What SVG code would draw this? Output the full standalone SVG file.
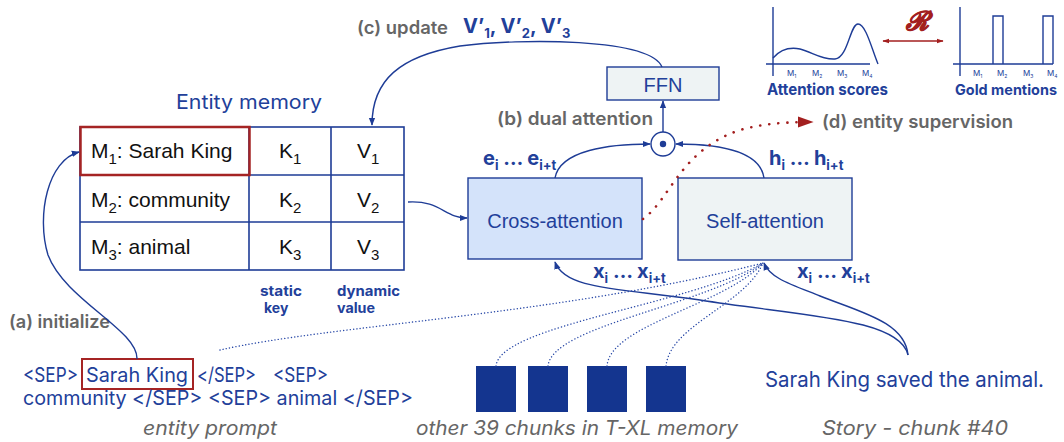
<svg xmlns="http://www.w3.org/2000/svg" width="1064" height="442" viewBox="0 0 1064 442">
<defs>
<marker id="ah" viewBox="0 0 10 10" refX="9" refY="5" markerWidth="8" markerHeight="8" markerUnits="userSpaceOnUse" orient="auto-start-reverse"><path d="M0,1 L10,5 L0,9 z" fill="#1e3c96"/></marker>
<marker id="ahr" viewBox="0 0 10 10" refX="9" refY="5" markerWidth="16" markerHeight="16" markerUnits="userSpaceOnUse" orient="auto"><path d="M0,1.5 L10,5 L0,8.5 z" fill="#a31f1f"/></marker>
<marker id="ahs" viewBox="0 0 10 10" refX="9" refY="5" markerWidth="7" markerHeight="7" markerUnits="userSpaceOnUse" orient="auto-start-reverse"><path d="M0,1.5 L10,5 L0,8.5 z" fill="#a31f1f"/></marker>
<style>
.ln{fill:none;stroke:#1e3c96;stroke-width:1.4}
.dot{fill:none;stroke:#2a4aa8;stroke-width:1.4;stroke-dasharray:0.1 3.2;stroke-linecap:round}
.rdot{fill:none;stroke:#a31f1f;stroke-width:2.6;stroke-dasharray:0.1 9;stroke-linecap:round}
.tbl{font-family:"Liberation Sans",Arial,sans-serif;font-size:21px;fill:#111}
.sub{font-size:15px}
.blue{font-family:Inter,"Liberation Sans",sans-serif;fill:#22409a}
.bb{font-family:Inter,"Liberation Sans",sans-serif;font-weight:bold;fill:#22409a}
.gray{font-family:Inter,"Liberation Sans",sans-serif;font-weight:600;fill:#666;font-size:18px}
.cap{font-family:Inter,"Liberation Sans",sans-serif;font-style:italic;fill:#666;font-size:20px}
.box{font-family:"Liberation Sans",Arial,sans-serif;font-size:20px;fill:#22409a}
.ms{font-family:Inter,"Liberation Sans",sans-serif;font-size:8px;fill:#22409a}
</style>
</defs>

<!-- Entity memory table -->
<g id="entity-memory">
<text class="blue" x="176" y="109" font-size="20" textLength="146" lengthAdjust="spacingAndGlyphs">Entity memory</text>
<rect x="80" y="127" width="324" height="143" fill="#fff" stroke="#1e3c96" stroke-width="1.6"/>
<path d="M249,127 V270 M331,127 V270 M80,175 H404 M80,222 H404" stroke="#1e3c96" stroke-width="1.6" fill="none"/>
<rect x="80.5" y="127" width="169" height="48" fill="none" stroke="#a52424" stroke-width="2.5"/>
<text class="tbl" x="91" y="158">M<tspan class="sub" dy="6">1</tspan><tspan dy="-6">: Sarah King</tspan></text>
<text class="tbl" x="91" y="207">M<tspan class="sub" dy="6">2</tspan><tspan dy="-6">: community</tspan></text>
<text class="tbl" x="91" y="254">M<tspan class="sub" dy="6">3</tspan><tspan dy="-6">: animal</tspan></text>
<text class="tbl" x="279" y="158">K<tspan class="sub" dy="6">1</tspan></text>
<text class="tbl" x="279" y="207">K<tspan class="sub" dy="6">2</tspan></text>
<text class="tbl" x="279" y="254">K<tspan class="sub" dy="6">3</tspan></text>
<text class="tbl" x="357" y="158">V<tspan class="sub" dy="6">1</tspan></text>
<text class="tbl" x="357" y="207">V<tspan class="sub" dy="6">2</tspan></text>
<text class="tbl" x="357" y="254">V<tspan class="sub" dy="6">3</tspan></text>
<text class="bb" font-size="14" x="260" y="296" textLength="42" lengthAdjust="spacingAndGlyphs">static</text>
<text class="bb" font-size="14" x="264" y="313">key</text>
<text class="bb" font-size="14" x="337" y="296" textLength="63" lengthAdjust="spacingAndGlyphs">dynamic</text>
<text class="bb" font-size="14" x="337" y="313" textLength="38" lengthAdjust="spacingAndGlyphs">value</text>
</g>

<!-- FFN -->
<g id="ffn">
<rect x="607" y="67" width="112" height="33" fill="#eef3f4" stroke="#1e3c96" stroke-width="1.4"/>
<text class="box" x="663" y="92" text-anchor="middle">FFN</text>
</g>

<!-- product node -->
<g id="product">
<circle cx="663" cy="144" r="12" fill="#fff" stroke="#1e3c96" stroke-width="1.4"/>
<circle cx="663" cy="144" r="3.2" fill="#1e3c96"/>
</g>

<!-- Cross-attention -->
<g id="cross-attention">
<rect x="468" y="178" width="174" height="81" fill="#d4e3fa" stroke="#1e3c96" stroke-width="1.4"/>
<text class="box" x="555" y="228" text-anchor="middle">Cross-attention</text>
</g>

<!-- Self-attention -->
<g id="self-attention">
<rect x="678" y="178" width="174" height="82" fill="#eef3f4" stroke="#1e3c96" stroke-width="1.4"/>
<text class="box" x="765" y="228" text-anchor="middle">Self-attention</text>
</g>

<!-- Attention scores chart -->
<g id="attention-scores">
<path d="M773,7 V76 M766,64 H870" class="ln"/>
<path d="M773,58 C780,50 790,47 800,49 C812,52 822,60 835,59 C848,58 850,24 858,24 C866,24 872,50 878,64" class="ln"/>
<text class="ms" x="787" y="76">M<tspan font-size="5" dy="2">1</tspan></text>
<text class="ms" x="812" y="76">M<tspan font-size="5" dy="2">2</tspan></text>
<text class="ms" x="837" y="76">M<tspan font-size="5" dy="2">3</tspan></text>
<text class="ms" x="862" y="76">M<tspan font-size="5" dy="2">4</tspan></text>
<text class="bb" font-size="16" x="767" y="95" textLength="121" lengthAdjust="spacingAndGlyphs">Attention scores</text>
</g>

<!-- Gold mentions chart -->
<g id="gold-mentions">
<path d="M960,7 V76 M953,64 H1053" class="ln"/>
<path d="M993,64 V16 H1003 V64 M1043,64 V16 H1053 V64" class="ln"/>
<text class="ms" x="973" y="76">M<tspan font-size="5" dy="2">1</tspan></text>
<text class="ms" x="997" y="76">M<tspan font-size="5" dy="2">2</tspan></text>
<text class="ms" x="1023" y="76">M<tspan font-size="5" dy="2">3</tspan></text>
<text class="ms" x="1047" y="76">M<tspan font-size="5" dy="2">4</tspan></text>
<text class="bb" font-size="14.5" x="955" y="95" textLength="102" lengthAdjust="spacingAndGlyphs">Gold mentions</text>
</g>

<!-- relation R -->
<g id="relation">
<text x="917" y="30" text-anchor="middle" font-family="'DejaVu Serif',serif" font-style="italic" font-weight="bold" font-size="26" fill="#a31f1f" stroke="#a31f1f" stroke-width="0.9">ℛ</text>
<path d="M883,41 H943" stroke="#a31f1f" stroke-width="1.4" fill="none" marker-start="url(#ahs)" marker-end="url(#ahs)"/>
</g>

<!-- T-XL memory chunks -->
<g id="txl-memory">
<rect x="476" y="366" width="40" height="46" fill="#14358f"/>
<rect x="528" y="366" width="40" height="46" fill="#14358f"/>
<rect x="587" y="366" width="40" height="46" fill="#14358f"/>
<rect x="646" y="366" width="40" height="46" fill="#14358f"/>
<text class="cap" x="416" y="435" textLength="322" lengthAdjust="spacingAndGlyphs">other 39 chunks in T-XL memory</text>
</g>

<!-- Entity prompt -->
<g id="entity-prompt">
<text class="blue" font-size="20" x="23" y="382" textLength="55" lengthAdjust="spacingAndGlyphs">&lt;SEP&gt;</text>
<rect x="82" y="359" width="111" height="30" fill="none" stroke="#a52424" stroke-width="2"/>
<text class="blue" font-size="20" x="86" y="382" textLength="102" lengthAdjust="spacingAndGlyphs">Sarah King</text>
<text class="blue" font-size="20" x="197" y="382" textLength="59" lengthAdjust="spacingAndGlyphs">&lt;/SEP&gt;</text>
<text class="blue" font-size="20" x="273" y="382" textLength="55" lengthAdjust="spacingAndGlyphs">&lt;SEP&gt;</text>
<text class="blue" font-size="20" x="23" y="405" textLength="390" lengthAdjust="spacingAndGlyphs">community &lt;/SEP&gt; &lt;SEP&gt; animal &lt;/SEP&gt;</text>
<text class="cap" x="143" y="435" textLength="134" lengthAdjust="spacingAndGlyphs">entity prompt</text>
</g>

<!-- Story -->
<g id="story">
<text class="blue" font-size="21" x="765" y="387" textLength="279" lengthAdjust="spacingAndGlyphs">Sarah King saved the animal.</text>
<text class="cap" x="822" y="435" textLength="186" lengthAdjust="spacingAndGlyphs">Story - chunk #40</text>
</g>

<!-- Labels -->
<g id="labels">
<text class="gray" x="357" y="34" textLength="91" lengthAdjust="spacingAndGlyphs">(c) update</text>
<text class="bb" font-size="20" x="463" y="33">V’<tspan font-size="13" dy="5">1</tspan><tspan dy="-5">, V’</tspan><tspan font-size="13" dy="5">2</tspan><tspan dy="-5">, V’</tspan><tspan font-size="13" dy="5">3</tspan></text>
<text class="gray" x="497" y="125" textLength="156" lengthAdjust="spacingAndGlyphs">(b) dual attention</text>
<text class="gray" x="822" y="128" textLength="191" lengthAdjust="spacingAndGlyphs">(d) entity supervision</text>
<text class="gray" x="9" y="328" textLength="101" lengthAdjust="spacingAndGlyphs">(a) initialize</text>
<text class="bb" font-size="20" x="483" y="165">e<tspan font-size="13" dy="5">i</tspan><tspan dy="-5"> … e</tspan><tspan font-size="13" dy="5">i+t</tspan></text>
<text class="bb" font-size="20" x="769" y="165">h<tspan font-size="13" dy="5">i</tspan><tspan dy="-5"> … h</tspan><tspan font-size="13" dy="5">i+t</tspan></text>
<text class="bb" font-size="20" x="593" y="278">x<tspan font-size="13" dy="5">i</tspan><tspan dy="-5"> … x</tspan><tspan font-size="13" dy="5">i+t</tspan></text>
<text class="bb" font-size="20" x="797" y="278">x<tspan font-size="13" dy="5">i</tspan><tspan dy="-5"> … x</tspan><tspan font-size="13" dy="5">i+t</tspan></text>
</g>

<!-- Connectors -->
<g id="connectors">
<path class="ln" d="M662,67 C650,38 520,38 460,46 C400,56 372,80 372,125" marker-end="url(#ah)"/>
<path class="ln" d="M663,132 V101" marker-end="url(#ah)"/>
<path class="ln" d="M555,178 C560,150 610,144 650,144" marker-end="url(#ah)"/>
<path class="ln" d="M764,178 C760,150 715,144 676,144" marker-end="url(#ah)"/>
<path class="ln" d="M408,202 C440,200 445,218 467,218" marker-end="url(#ah)"/>
<path class="ln" d="M137,359 C138,330 65,300 48,255 C36,215 48,160 79,152" marker-end="url(#ah)"/>
<path class="ln" d="M908,355 C900,318 800,316 700,300 C620,288 565,290 555,262" marker-end="url(#ah)"/>
<path class="ln" d="M908,355 C905,322 860,312 820,296 C790,284 770,278 764,263" marker-end="url(#ah)"/>
<path class="dot" d="M220,350 C330,325 560,315 763,263"/>
<path class="dot" d="M496,366 C500,325 690,305 763,263"/>
<path class="dot" d="M548,366 C552,325 710,305 763,263"/>
<path class="dot" d="M607,366 C610,325 725,305 763,263"/>
<path class="dot" d="M666,366 C670,325 745,305 763,263"/>
<path class="rdot" d="M643,219 C670,200 680,150 740,130 C765,123 790,122 812,122" marker-end="url(#ahr)"/>
</g>
</svg>
